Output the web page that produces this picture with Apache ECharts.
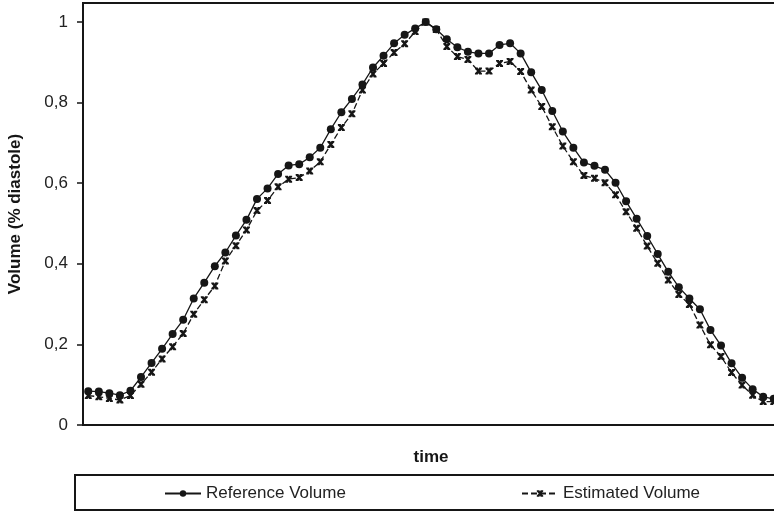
<!DOCTYPE html>
<html>
<head>
<meta charset="utf-8">
<script src="https://cdn.jsdelivr.net/npm/echarts@6/dist/echarts.min.js"></script>
<style>html,body{margin:0;padding:0;background:#fff}#c{width:774px;height:513px}</style>
</head>
<body>
<div id="c"></div>
<script>
var categories = [];
for (var i = 1; i <= 66; i++) categories.push(String(i));

var referenceVolume = [
  0.084, 0.083, 0.079, 0.074, 0.085, 0.119, 0.154, 0.189, 0.226, 0.261,
  0.314, 0.353, 0.394, 0.428, 0.470, 0.509, 0.561, 0.587, 0.623, 0.644,
  0.647, 0.664, 0.688, 0.734, 0.776, 0.809, 0.845, 0.887, 0.916, 0.947,
  0.968, 0.984, 1.000, 0.982, 0.957, 0.937, 0.926, 0.922, 0.922, 0.943,
  0.947, 0.922, 0.875, 0.831, 0.779, 0.728, 0.688, 0.651, 0.643, 0.633,
  0.601, 0.555, 0.512, 0.469, 0.424, 0.380, 0.342, 0.314, 0.287, 0.236,
  0.197, 0.153, 0.117, 0.089, 0.070, 0.065
];

var estimatedVolume = [
  0.073, 0.070, 0.066, 0.062, 0.073, 0.101, 0.131, 0.164, 0.194, 0.227,
  0.275, 0.311, 0.345, 0.407, 0.445, 0.484, 0.532, 0.557, 0.591, 0.610,
  0.614, 0.630, 0.653, 0.696, 0.738, 0.772, 0.831, 0.871, 0.897, 0.924,
  0.946, 0.976, 1.000, 0.981, 0.939, 0.914, 0.907, 0.878, 0.878, 0.897,
  0.902, 0.877, 0.831, 0.790, 0.740, 0.692, 0.653, 0.619, 0.612, 0.601,
  0.571, 0.529, 0.488, 0.444, 0.401, 0.360, 0.324, 0.299, 0.248, 0.199,
  0.170, 0.130, 0.099, 0.074, 0.058, 0.058
];

var yTicks = [0, 0.2, 0.4, 0.6, 0.8, 1];

var xSymbol = 'path://M0,0 L4,0 L5,2 L6,0 L10,0 L10,2 L7,5 L10,8 L10,10 L6,10 L5,8 L4,10 L0,10 L0,8 L3,5 L0,2 Z';
var FONT = '"Liberation Sans", Arial, Helvetica, sans-serif';
var INK = '#161616';

var chart = echarts.init(document.getElementById('c'));
chart.setOption({
  animation: false,
  backgroundColor: '#fff',
  grid: {
    left: 83, top: 3, width: 696, bottom: 88,
    outerBoundsMode: 'none',
    containLabel: false,
    show: true, borderColor: INK, borderWidth: 2, backgroundColor: 'transparent'
  },
  xAxis: {
    type: 'category',
    data: categories,
    boundaryGap: true,
    name: 'time',
    nameLocation: 'middle',
    nameGap: 24,
    nameTextStyle: { fontFamily: FONT, fontSize: 17, fontWeight: 'bold', color: INK },
    axisLine: { lineStyle: { color: INK, width: 2 } },
    axisTick: { show: false },
    axisLabel: { show: false },
    splitLine: { show: false }
  },
  yAxis: {
    type: 'value',
    min: 0,
    max: 1.047,
    interval: 0.2,
    name: 'Volume (% diastole)',
    nameLocation: 'middle',
    nameGap: 59,
    nameTextStyle: { fontFamily: FONT, fontSize: 17, fontWeight: 'bold', color: INK },
    axisLine: { show: true, lineStyle: { color: INK, width: 2 } },
    axisTick: { show: true, length: 6, inside: false, customValues: yTicks, lineStyle: { color: INK, width: 1.5 } },
    axisLabel: {
      customValues: yTicks,
      margin: 15,
      fontFamily: FONT, fontSize: 17, color: '#222',
      formatter: function (v) {
        var r = Math.round(v * 10) / 10;
        if (Math.abs(r - v) > 1e-6 || Math.abs(Math.round(r * 5) - r * 5) > 1e-6) return '';
        return String(r).replace('.', ',');
      }
    },
    splitLine: { show: false }
  },
  legend: [
    {
      left: 164, top: 485, padding: 0,
      itemWidth: 36, itemHeight: 8, itemGap: 0,
      textStyle: { fontFamily: FONT, fontSize: 17, color: '#222' },
      data: ['Reference Volume']
    },
    {
      left: 521, top: 485, padding: 0,
      itemWidth: 36, itemHeight: 8, itemGap: 0,
      textStyle: { fontFamily: FONT, fontSize: 17, color: '#222' },
      data: ['Estimated Volume']
    }
  ],
  graphic: [
    {
      type: 'rect',
      shape: { x: 75, y: 475, width: 720, height: 35 },
      style: { fill: 'none', stroke: INK, lineWidth: 2 },
      silent: true
    }
  ],
  series: [
    {
      name: 'Reference Volume',
      type: 'line',
      data: referenceVolume,
      symbol: 'circle',
      symbolSize: 8,
      showAllSymbol: true,
      lineStyle: { color: INK, width: 1.3, type: 'solid' },
      itemStyle: { color: INK },
      z: 2
    },
    {
      name: 'Estimated Volume',
      type: 'line',
      data: estimatedVolume,
      symbol: xSymbol,
      symbolSize: 7,
      showAllSymbol: true,
      lineStyle: { color: INK, width: 1.3, type: [6, 3] },
      itemStyle: { color: INK },
      z: 3
    }
  ]
});
</script>
</body>
</html>
